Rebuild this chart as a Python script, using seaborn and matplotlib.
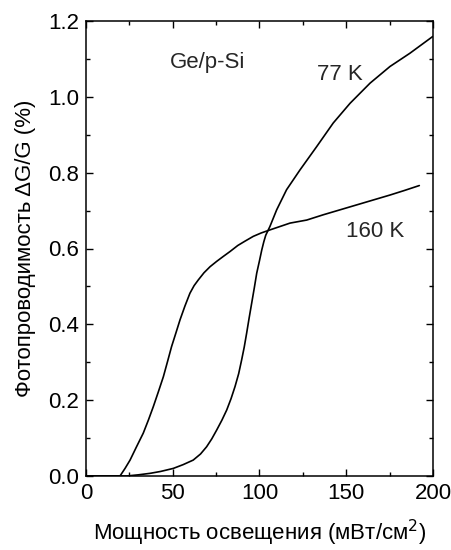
import numpy as np
import pandas as pd
import matplotlib
matplotlib.use("Agg")
import matplotlib.pyplot as plt
import seaborn as sns
from matplotlib.ticker import MultipleLocator

# 77 K curve
x77 = [0, 23.4, 30, 36.9, 43, 50.3, 56, 61.8, 66, 69.5, 72.5, 75.3, 78.3, 81.1, 83.6, 85.9,
       88, 89.7, 91.2, 92.6, 94, 95.5, 97, 98.4, 100, 101.3, 102.5, 103.6, 106, 109.9, 115.6,
       123.3, 133, 142.5, 152.2, 163.7, 175.2, 186.7, 199.8]
y77 = [0, 0, 0.003, 0.007, 0.012, 0.02, 0.03, 0.042, 0.058, 0.077, 0.098, 0.121, 0.147, 0.174,
       0.204, 0.236, 0.27, 0.306, 0.34, 0.377, 0.416, 0.456, 0.496, 0.535, 0.568, 0.596, 0.618,
       0.635, 0.658, 0.702, 0.755, 0.807, 0.869, 0.931, 0.983, 1.036, 1.08, 1.115, 1.159]
# 160 K curve
x160 = [0, 19.6, 22.5, 25.4, 29, 33, 36, 38.8, 41.7, 44.6, 47, 49.3, 51.8, 54.2, 57, 59.9,
        62.3, 64.7, 68, 71.5, 75.3, 79.1, 83, 87.5, 91.5, 96.4, 101, 106, 117.6, 127.2, 136.8,
        146.4, 156, 165.6, 175.2, 183.5, 192.1]
y160 = [0, 0, 0.02, 0.042, 0.076, 0.113, 0.148, 0.183, 0.222, 0.262, 0.302, 0.341, 0.377,
        0.412, 0.448, 0.482, 0.502, 0.517, 0.536, 0.552, 0.566, 0.579, 0.592, 0.608, 0.619,
        0.632, 0.641, 0.649, 0.667, 0.675, 0.689, 0.702, 0.715, 0.728, 0.741, 0.753, 0.766]

sns.set_theme(style="ticks")
plt.rcParams['font.family'] = ['Liberation Sans', 'DejaVu Sans']

fig = plt.figure(figsize=(4.52, 5.5), dpi=100)
ax = fig.add_axes([86/452, 1-476/550, (433-86)/452, (476-21)/550])

df77 = pd.DataFrame({"x": x77, "y": y77})
df160 = pd.DataFrame({"x": x160, "y": y160})
sns.lineplot(data=df77, x="x", y="y", ax=ax, color="black", lw=1.2, sort=False)
sns.lineplot(data=df160, x="x", y="y", ax=ax, color="black", lw=1.2, sort=False)

ax.set_xlim(0, 200)
ax.set_ylim(0, 1.2)
ax.xaxis.set_minor_locator(MultipleLocator(25))
ax.yaxis.set_minor_locator(MultipleLocator(0.1))
ax.set_xticks([0, 50, 100, 150, 200])
ax.set_xticklabels(["0", "50", "100", "150", "200"])
ax.set_yticks([0, 0.2, 0.4, 0.6, 0.8, 1.0, 1.2])
ax.set_yticklabels(["0.0", "0.2", "0.4", "0.6", "0.8", "1.0", "1.2"])
ax.tick_params(which="both", direction="in", top=True, right=True, labelsize=16, width=1,
               color="black", labelcolor="black")
ax.tick_params(which="major", length=5, pad=5)
ax.tick_params(which="minor", length=3)
for s in ax.spines.values():
    s.set_linewidth(1.1)
    s.set_color("black")

ax.set_xlabel("Мощность освещения (мВт/см$^2$)", fontsize=16, labelpad=10, color="black")
ax.set_ylabel("Фотопроводимость ΔG/G (%)", fontsize=16, labelpad=9, color="black")

ax.text(70, 1.09, "Ge/p-Si", fontsize=16, ha="center", va="center")
ax.text(133, 1.06, "77 K", fontsize=16, ha="left", va="center")
ax.text(150, 0.645, "160 K", fontsize=16, ha="left", va="center")

fig.savefig("out.png", dpi=100)
